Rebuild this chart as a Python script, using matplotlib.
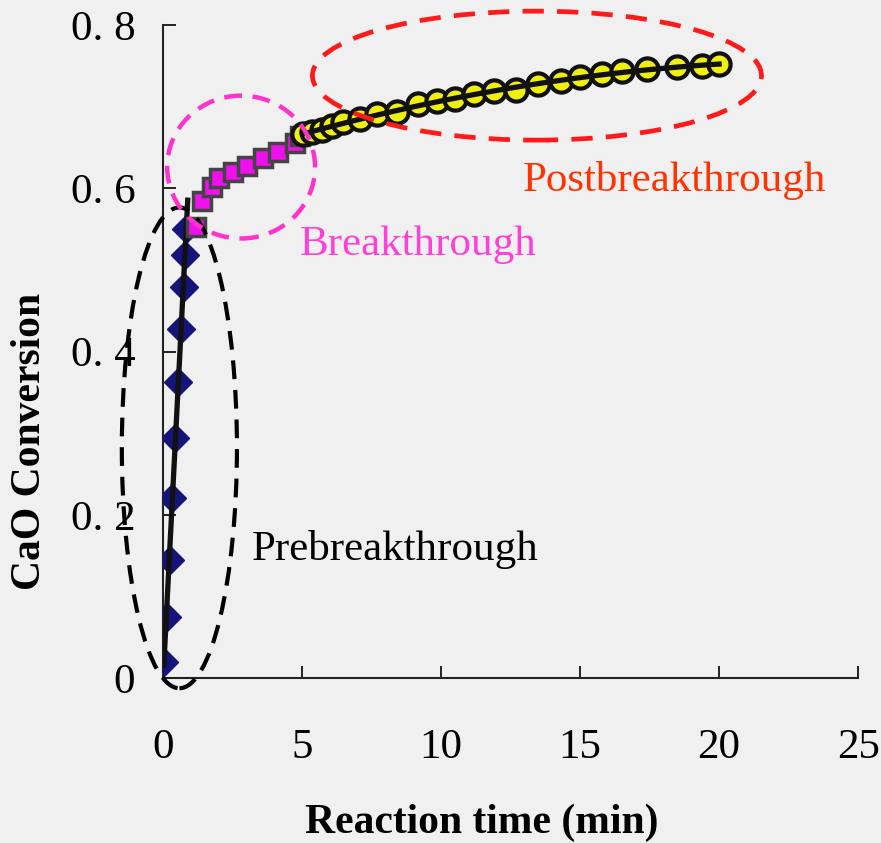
import numpy as np
import matplotlib
matplotlib.use('Agg')
import matplotlib.pyplot as plt
from matplotlib.patches import Ellipse

# Prebreakthrough (diamonds)
pre_x = [0.03, 0.13, 0.27, 0.31, 0.42, 0.55, 0.65, 0.75, 0.78, 0.84]
pre_y = [0.020, 0.075, 0.145, 0.220, 0.294, 0.363, 0.428, 0.479, 0.518, 0.550]

# Breakthrough (squares)
brk_x = [1.19, 1.40, 1.76, 2.01, 2.52, 3.02, 3.60, 4.14, 4.75, 4.93]
brk_y = [0.553, 0.584, 0.601, 0.613, 0.620, 0.627, 0.637, 0.645, 0.656, 0.664]

# Postbreakthrough (circles)
post_x = [5.04, 5.36, 5.72, 6.08, 6.47, 7.09, 7.70, 8.42, 9.17, 9.86, 10.5, 11.2,
          11.9, 12.7, 13.5, 14.3, 15.0, 15.8, 16.5, 17.4, 18.5, 19.4, 20.0]
post_y = [0.666, 0.669, 0.672, 0.676, 0.681, 0.685, 0.691, 0.694, 0.703, 0.707, 0.709, 0.715,
          0.719, 0.721, 0.728, 0.731, 0.736, 0.740, 0.744, 0.746, 0.748, 0.750, 0.752]

xticks = [0, 5, 10, 15, 20, 25]
yticks = [0, 0.2, 0.4, 0.6, 0.8]
ytick_labels = ['0', '0. 2', '0. 4', '0. 6', '0. 8']

bg = '#f0f0f0'
serif = 'Liberation Serif'

fig = plt.figure(figsize=(8.81, 8.43), dpi=100, facecolor=bg)
ax = fig.add_axes([0.185, 0.1957, 0.789, 0.7746], facecolor=bg)

# fitted lines
k1 = np.polyfit(pre_x, pre_y, 1)
xl1 = np.linspace(pre_x[0], brk_x[0] - 0.3, 20)
k3 = np.polyfit(post_x, post_y, 2)
xl3 = np.linspace(post_x[0], post_x[-1], 60)

ax.plot(pre_x, pre_y, 'D', color='#14147a', ms=14.5, mec='#14147a', zorder=3)
ax.plot(xl1, np.polyval(k1, xl1), color='#111111', lw=3.8, zorder=4)
ax.plot(brk_x, brk_y, 's', color='#ee11ee', ms=13.5, mec='#444444', mew=2.5, zorder=5)
ax.plot(post_x, post_y, 'o', color='#f0f010', ms=16, mec='#111111', mew=3, zorder=5)
ax.plot(xl3, np.polyval(k3, xl3), color='#111111', lw=3.8, zorder=6)

# region ellipses
ax.add_patch(Ellipse((0.59, 0.282), 4.14, 0.589, fill=False, ec='black', lw=3,
                     ls=(0, (4.5, 2.6)), clip_on=False, zorder=7))
ax.add_patch(Ellipse((2.81, 0.626), 5.32, 0.175, fill=False, ec='#ff33cc', lw=3.2,
                     ls=(0, (4, 2.4)), clip_on=False, zorder=7))
ax.add_patch(Ellipse((13.45, 0.738), 16.15, 0.158, fill=False, ec='#ff1a1a', lw=3.4,
                     ls=(0, (4.5, 2.8)), clip_on=False, zorder=7))

ax.text(3.2, 0.157, 'Prebreakthrough', fontsize=31, family=serif, color='black', va='center')
ax.text(4.93, 0.531, 'Breakthrough', fontsize=31, family=serif, color='#ff40d8', va='center')
ax.text(12.95, 0.609, 'Postbreakthrough', fontsize=31, family=serif, color='#ff3300', va='center')

ax.set_xlim(0, 25)
ax.set_ylim(0, 0.8)
ax.set_xticks(xticks)
ax.set_yticks(yticks)
ax.set_yticklabels(ytick_labels)
ax.tick_params(axis='x', direction='in', length=9, width=1.2, pad=36, labelsize=31)
ax.tick_params(axis='y', direction='in', length=9, width=1.2, pad=20, labelsize=31)
for lab in ax.get_xticklabels() + ax.get_yticklabels():
    lab.set_family(serif)

for s in ['top', 'right']:
    ax.spines[s].set_visible(False)
for s in ['left', 'bottom']:
    ax.spines[s].set_linewidth(1.5)
    ax.spines[s].set_color('#222222')

fig.text(482 / 881, 1 - 823 / 843, 'Reaction time (min)', fontsize=30, family=serif,
         weight='bold', ha='center', va='center')
fig.text(30 / 881, 1 - 441 / 843, 'CaO Conversion', fontsize=30, family=serif,
         weight='bold', ha='center', va='center', rotation=90)

fig.savefig('out.png', dpi=100, facecolor=bg)
